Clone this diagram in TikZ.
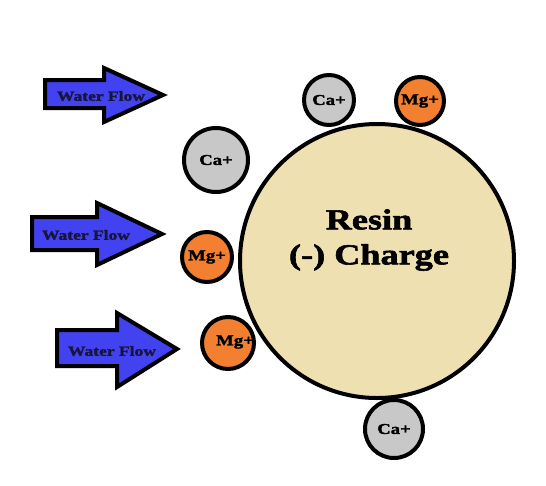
\documentclass[tikz,border=0pt]{standalone}
\usepackage{fontspec}
\newfontfamily\fatserif[FakeStretch=1.25,BoldFeatures={FakeStretch=1.25,FakeBold=2}]{Liberation Serif}
\usetikzlibrary{positioning}

\definecolor{flowblue}{RGB}{66,66,240}
\definecolor{flowtext}{RGB}{22,22,60}
\definecolor{ionorange}{RGB}{242,128,48}
\definecolor{iongray}{RGB}{200,200,200}
\definecolor{resincream}{RGB}{238,224,176}

\tikzset{
  flowarrow/.style={draw=black,fill=flowblue,line width=4pt,line join=miter},
  flowlabel/.style={text=flowtext,inner sep=0pt,font=\fatserif\bfseries\fontsize{14}{14}\selectfont},
  ionfont/.style={font=\fatserif\bfseries\fontsize{15}{15}\selectfont},
  ion/.style={circle,draw=black,line width=4pt,inner sep=0pt,ionfont},
  calcium/.style={ion,fill=iongray},
  magnesium/.style={ion,fill=ionorange},
  resin/.style={circle,draw=black,line width=4pt,fill=resincream,minimum size=274pt,inner sep=0pt}
}

\begin{document}
\begin{tikzpicture}[x=1pt,y=-1pt,line cap=round,line join=round]
\path[use as bounding box,fill=white] (0,0) rectangle (546,485);
% water flow arrows
\draw[flowarrow] (45,80)--(104,80)--(104,68)--(163,95)--(104,122)--(104,108)--(45,108)--cycle;
\node[flowlabel] (flow1) at (101,96) {Water Flow};
\draw[flowarrow] (32,217)--(97,217)--(97,203)--(162,234)--(97,265)--(97,250)--(32,250)--cycle;
\node[flowlabel] (flow2) at (86,235) {Water Flow};
\draw[flowarrow] (57,330)--(117,330)--(117,313)--(177,349)--(117,387)--(117,366)--(57,366)--cycle;
\node[flowlabel] (flow3) at (112,351) {Water Flow};
% resin bead
\node[resin] (bead) at (377,261) {};
\node[font=\fatserif\bfseries\fontsize{29}{29}\selectfont,align=center,inner sep=0pt] (beadlabel) at (369,240) {Resin\\[6pt](-) Charge};
% ions held on the bead
\node[calcium,minimum size=50pt] (ca1) at (329,100) {Ca+};
\node[magnesium,minimum size=48pt] (mg1) at (420,101) {Mg+};
\node[calcium,minimum size=64pt] (ca2) at (216,160) {Ca+};
\node[magnesium,minimum size=50pt] (mg2) at (207,257) {Mg+};
\node[magnesium,minimum size=52pt] (mg3) at (228,343) {};
\node[ionfont,inner sep=0pt] (mg3label) at (235,342) {Mg+};
\node[calcium,minimum size=58pt] (ca3) at (394,429) {Ca+};
\end{tikzpicture}
\end{document}
